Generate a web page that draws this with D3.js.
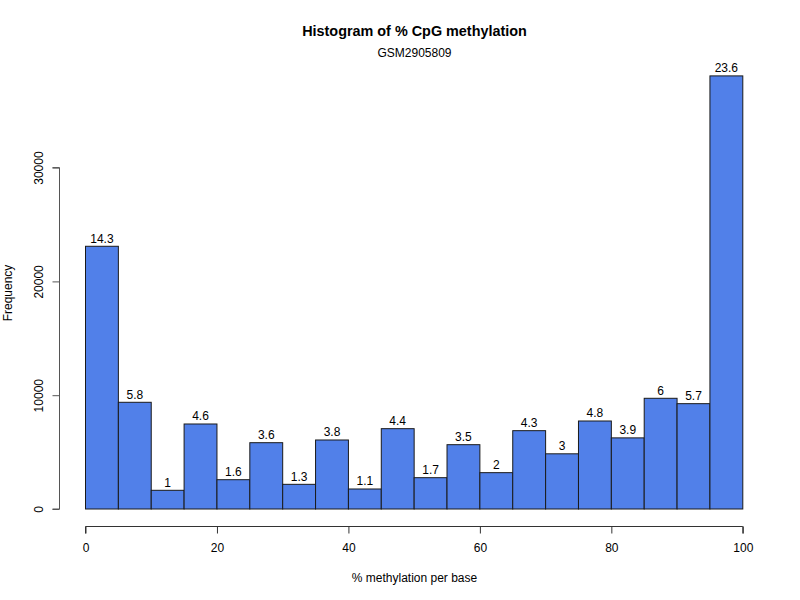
<!DOCTYPE html>
<html><head><meta charset="utf-8">
<script src="https://cdn.jsdelivr.net/npm/d3@7"></script>
<style>body{margin:0;background:#fff}svg{display:block}text{font-family:"Liberation Sans",Arial,sans-serif;fill:#000}</style>
</head><body><svg id="c" width="800" height="600"></svg>
<script>
const binStarts = [0,5,10,15,20,25,30,35,40,45,50,55,60,65,70,75,80,85,90,95];
const binWidth = 5;
const counts = [23086,9377,1643,7470,2575,5827,2168,6064,1758,7059,2752,5652,3193,6883,4850,7733,6250,9728,9256,38058];
const xTicks = [0,20,40,60,80,100];
const yTicks = [0,10000,20000,30000];
const title = "Histogram of % CpG methylation";
const subtitle = "GSM2905809";
const xLabel = "% methylation per base";
const yLabel = "Frequency";

const svg = d3.select("#c");
const x = d3.scaleLinear().domain([0,100]).range([85.5,742.8]);
const y = d3.scaleLinear().domain([0,30000]).range([509,167.6]);
const total = d3.sum(counts);
const data = binStarts.map((s,i)=>({x0:s,x1:s+binWidth,n:counts[i]}));

svg.append("g").selectAll("rect").data(data).join("rect")
  .attr("x",d=>x(d.x0)).attr("width",d=>x(d.x1)-x(d.x0))
  .attr("y",d=>y(d.n)).attr("height",d=>y(0)-y(d.n))
  .attr("fill","#5180E9").attr("stroke","#1a1a1a").attr("stroke-width",1);

svg.append("g").selectAll("text").data(data).join("text")
  .attr("x",d=>(x(d.x0)+x(d.x1))/2).attr("y",d=>y(d.n)-3.5)
  .attr("text-anchor","middle").attr("font-size","12px")
  .text(d=>String(Math.round(d.n/total*1000)/10));

// x axis
const xa = svg.append("g").attr("transform","translate(0,526.5)")
  .call(d3.axisBottom(x).tickValues(xTicks).tickSize(7).tickPadding(10).tickFormat(d3.format("d")));
xa.select(".domain").attr("stroke","#333").attr("d",`M${x(0)},7V0H${x(100)}V7`);
xa.selectAll("line").attr("stroke","#333");
xa.selectAll("text").attr("font-size","12px").attr("font-family","Liberation Sans, Arial, sans-serif").attr("fill","#000");

// y axis
const ya = svg.append("g").attr("transform","translate(59.5,0)")
  .call(d3.axisLeft(y).tickValues(yTicks).tickSize(7).tickFormat(d3.format("d")));
ya.select(".domain").attr("stroke","#555").attr("d",`M-7,${y(0)}H0V${y(30000)}H-7`);
ya.selectAll("line").attr("stroke","#555");
ya.selectAll(".tick text").attr("font-size","12px").attr("font-family","Liberation Sans, Arial, sans-serif").attr("fill","#000")
  .attr("x",null).attr("dy",null).attr("text-anchor","middle")
  .attr("transform","translate(-17,0) rotate(-90)");

svg.append("text").attr("x",414.5).attr("y",36).attr("text-anchor","middle")
  .attr("font-size","14.4px").attr("font-weight","bold").text(title);
svg.append("text").attr("x",414.5).attr("y",57).attr("text-anchor","middle")
  .attr("font-size","12px").text(subtitle);
svg.append("text").attr("x",414.5).attr("y",582).attr("text-anchor","middle")
  .attr("font-size","12px").text(xLabel);
svg.append("text").attr("transform","translate(3.5,293) rotate(-90)").attr("dy","0.71em").attr("text-anchor","middle")
  .attr("font-size","12px").text(yLabel);
</script></body></html>
